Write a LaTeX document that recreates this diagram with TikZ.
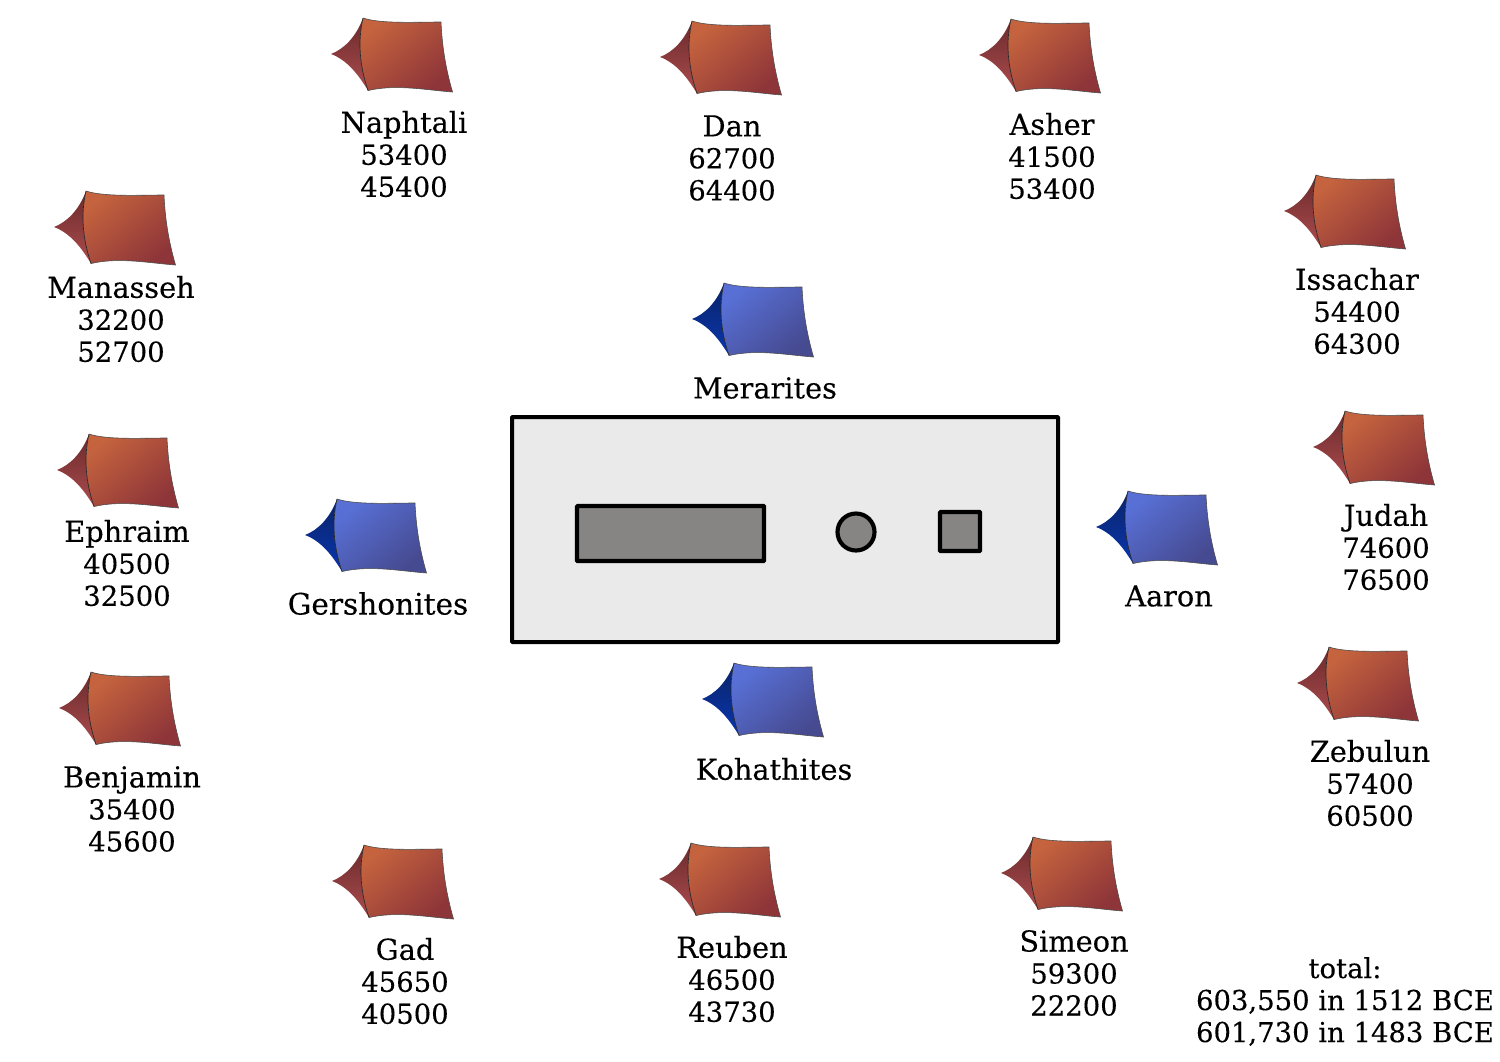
\documentclass[tikz,border=0pt]{standalone}
\usepackage{fontspec}
\setmainfont[FakeBold=0.25]{DejaVu Serif}
\definecolor{redA}{HTML}{C4633E}
\definecolor{redB}{HTML}{8E3539}
\definecolor{redC}{HTML}{6A2A2C}
\definecolor{redD}{HTML}{AC4C4E}
\definecolor{bluA}{HTML}{5870D6}
\definecolor{bluB}{HTML}{464A90}
\definecolor{bluC}{HTML}{0A2468}
\definecolor{bluD}{HTML}{0A36AE}
\definecolor{wallgray}{HTML}{EAEAEA}
\definecolor{itemgray}{HTML}{868583}
\newcommand{\nm}[1]{{\fontsize{21.6}{24}\selectfont #1}}
\tikzset{
  lab/.style={font=\fontsize{20.6}{24}\selectfont,align=center,inner sep=0pt,text=black},
  court/.style={draw=black,line width=3pt,fill=wallgray,rounded corners=0.5pt,inner sep=0pt},
  item/.style={draw=black,line width=3.1pt,fill=itemgray,rounded corners=0.5pt,inner sep=0pt},
  roundItem/.style={draw=black,line width=3.1pt,fill=itemgray,circle,inner sep=0pt,minimum size=37*0.75pt}
}
\newcommand{\tentat}[6]{%
  \begin{scope}[shift={(#1,#2)}]
    \shade[top color=#5,bottom color=#6,shading angle=0]
      (0,0) .. controls (13,-5) and (25,-17) .. (32,-36)
      .. controls (27,-14) and (28,10) .. (37,36.5)
      .. controls (27,20) and (16,6) .. (0,0) -- cycle;
    \shade[top color=#3,bottom color=#4,shading angle=40]
      (32,-36) .. controls (50,-30) and (85,-32) .. (110,-32)
      .. controls (111,-10) and (114,12) .. (121.5,38)
      .. controls (95,36) and (65,30) .. (37,36.5)
      .. controls (28,10) and (27,-14) .. (32,-36) -- cycle;
    \draw[black!70,line width=0.45pt] (32,-36) .. controls (50,-30) and (85,-32) .. (110,-32)
      .. controls (111,-10) and (114,12) .. (121.5,38)
      .. controls (95,36) and (65,30) .. (37,36.5);
    \draw[black!85,line width=0.5pt] (37,36.5) .. controls (28,10) and (27,-14) .. (32,-36);
  \end{scope}}
\newcommand{\redtent}[2]{\tentat{#1}{#2}{redA}{redB}{redC}{redD}}
\newcommand{\blutent}[2]{\tentat{#1}{#2}{bluA}{bluB}{bluC}{bluD}}
\begin{document}
\begin{tikzpicture}[x=0.75pt,y=-0.75pt]
\useasboundingbox (0,0) rectangle (1500,1061);
% outer tents
\redtent{331}{54}\redtent{660}{57}\redtent{979}{55}\redtent{1284}{211}
\redtent{1313}{447}\redtent{1297}{683}\redtent{1001}{873}\redtent{659}{879}
\redtent{332}{881}\redtent{59}{708}\redtent{57}{470}\redtent{54}{227}
% inner tents
\blutent{692}{319}\blutent{1096}{527}\blutent{702}{699}\blutent{305}{535}
% tabernacle
\node[court,minimum width=546*0.75pt,minimum height=225*0.75pt] (tabernacle) at (785,529.5) {};
\node[item,minimum width=187*0.75pt,minimum height=55*0.75pt] (holy) at (670.5,533.5) {};
\node[roundItem] (laver) at (856,532) {};
\node[item,minimum width=40*0.75pt,minimum height=39*0.75pt] (altar) at (960,531.5) {};
% labels
\node[lab] (naphtali) at (404,154) {\nm{Naphtali}\\53400\\45400};
\node[lab] (dan) at (732,158) {\nm{Dan}\\62700\\64400};
\node[lab] (asher) at (1052,156) {\nm{Asher}\\41500\\53400};
\node[lab] (issachar) at (1357,311) {\nm{Issachar}\\54400\\64300};
\node[lab] (judah) at (1386,547) {\nm{Judah}\\74600\\76500};
\node[lab] (zebulun) at (1370,783) {\nm{Zebulun}\\57400\\60500};
\node[lab] (simeon) at (1074,973) {\nm{Simeon}\\59300\\22200};
\node[lab] (reuben) at (732,979) {\nm{Reuben}\\46500\\43730};
\node[lab] (gad) at (405,981) {\nm{Gad}\\45650\\40500};
\node[lab] (benjamin) at (132,809) {\nm{Benjamin}\\35400\\45600};
\node[lab] (ephraim) at (127,563) {\nm{Ephraim}\\40500\\32500};
\node[lab] (manasseh) at (121,319) {\nm{Manasseh}\\32200\\52700};
\node[lab] (merarites) at (765,388) {\nm{Merarites}};
\node[lab] (aaron) at (1169,596) {\nm{Aaron}};
\node[lab] (kohathites) at (774,769) {\nm{Kohathites}};
\node[lab] (gershonites) at (378,603.5) {\fontsize{22.2}{24}\selectfont Gershonites};
\node[lab] (total) at (1345,1001.5) {total:\\603,550 in 1512 BCE\\601,730 in 1483 BCE};
\end{tikzpicture}
\end{document}
